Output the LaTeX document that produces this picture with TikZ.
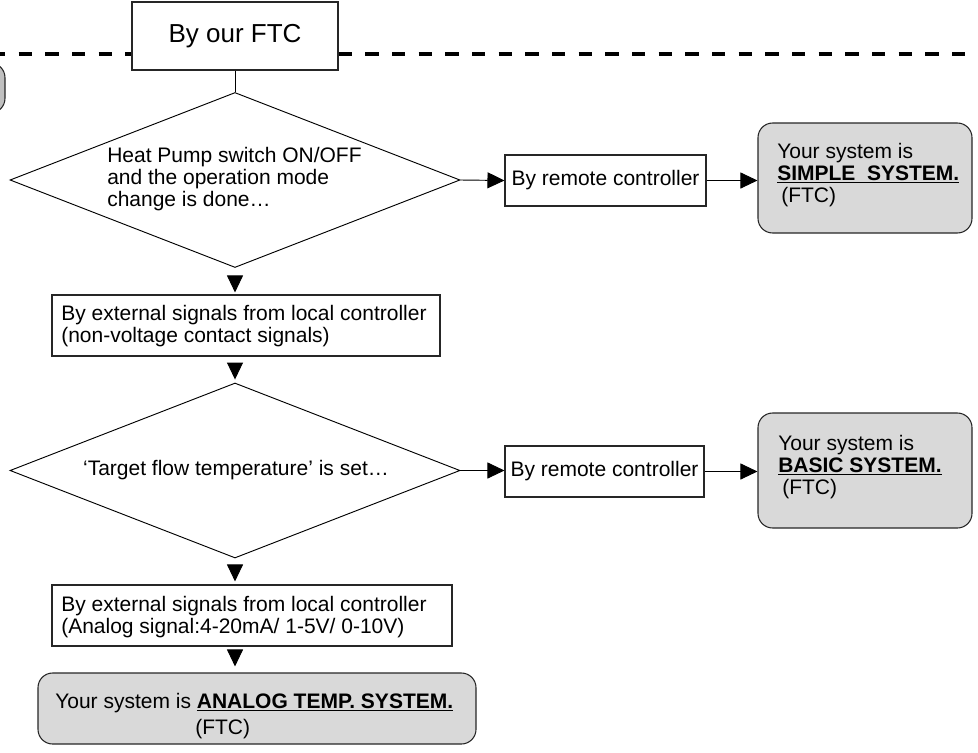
\documentclass[tikz,border=0pt]{standalone}
\usepackage{fontspec}
\setmainfont{Liberation Sans}
\usetikzlibrary{shapes.geometric,arrows.meta}
\def\pu{0.75pt}
\definecolor{resgray}{HTML}{D9D9D9}
\definecolor{edgegray}{HTML}{C0C0C0}
\tikzset{
  base/.style={font=\fontsize{15.75}{16.5}\selectfont},
  sqbox/.style={draw=black!85, line width=0.8pt, fill=white, inner sep=0pt},
  resbox/.style={draw=black!85, line width=0.8pt, fill=resgray, rounded corners=11pt, inner sep=0pt},
  dia/.style={diamond, draw=black, line width=0.7pt, fill=white, inner sep=0pt},
  txt/.style={base, inner sep=0pt, align=left},
  arr/.style={line width=0.7pt, -{Triangle[length=12.75pt,width=12pt]}},
  varr/.style={line width=0.7pt, -{Triangle[length=12.75pt,width=12pt]}},
  dashline/.style={line width=3.5pt, dash pattern=on 10pt off 10pt, dash phase=6pt},
}
\begin{document}
\begin{tikzpicture}[x=0.75pt,y=-0.75pt]
\useasboundingbox (0,0) rectangle (978,753);
% dashed separator
\coordinate (dl) at (0,54);
\coordinate (dr) at (978,54);
\draw[dashline] (dl) -- (dr);
% top box
\node[sqbox, minimum width=206*\pu, minimum height=68*\pu, font=\fontsize{19.5}{21}\selectfont] (ftc) at (235,36) {By our FTC};
% partial grey box at left edge
\node[resbox, fill=edgegray, minimum width=40*\pu, minimum height=50*\pu] (pg) at (-15,88) {};
% decision 1
\node[dia, minimum width=450*\pu, minimum height=175*\pu] (d1) at (235,180) {};
\node[txt, anchor=west] (d1t) at (107,179) {Heat Pump switch ON/OFF\\and the operation mode\\change is done\ldots};
\node[sqbox, base, minimum width=201*\pu, minimum height=51*\pu] (rc1) at (605.5,180.5) {By remote controller};
\node[resbox, minimum width=214*\pu, minimum height=110*\pu] (res1) at (865,178) {};
\node[txt, anchor=west] (res1t) at (777,175) {Your system is\\\underline{\textbf{SIMPLE\ \ SYSTEM.}}\\\hspace*{3pt}(FTC)};
% box 2
\node[sqbox, minimum width=388*\pu, minimum height=61*\pu] (b2) at (246,325.5) {};
\node[txt, anchor=west] (b2t) at (61,326) {By external signals from local controller\\(non-voltage contact signals)};
% decision 2
\node[dia, minimum width=450*\pu, minimum height=175*\pu] (d2) at (235,470.5) {};
\node[txt, anchor=center] (d2t) at (236,470) {‘Target flow temperature’ is set\ldots};
\node[sqbox, base, minimum width=199*\pu, minimum height=51*\pu] (rc2) at (604.5,471.5) {By remote controller};
\node[resbox, minimum width=214*\pu, minimum height=115*\pu] (res2) at (865,470.5) {};
\node[txt, anchor=west] (res2t) at (778,467) {Your system is\\\underline{\textbf{BASIC SYSTEM.}}\\\hspace*{3pt}(FTC)};
% box 3
\node[sqbox, minimum width=400*\pu, minimum height=61*\pu] (b3) at (252,615.5) {};
\node[txt, anchor=west] (b3t) at (61,617) {By external signals from local controller\\(Analog signal:4-20mA/ 1-5V/ 0-10V)};
% final result
\node[resbox, minimum width=438*\pu, minimum height=71*\pu] (res3) at (257,708.5) {};
\node[txt, anchor=west] (res3t) at (55,716) {Your system is \underline{\textbf{ANALOG TEMP. SYSTEM.}}\\[3pt]\hspace*{105pt}(FTC)};
% connectors
\draw[line width=0.7pt] (ftc.south) -- (d1.north);
\draw[arr] (d1.east) -- (rc1.west);
\draw[arr] (rc1.east) -- (res1.west |- rc1.east);
\draw[varr, shorten <=6.75pt, shorten >=1.5pt] (d1.south) -- (d1.south |- b2.north);
\draw[varr, shorten <=5.25pt, shorten >=2.25pt] (d2.north |- b2.south) -- (d2.north);
\draw[arr] (d2.east) -- (rc2.west |- d2.east);
\draw[arr] (rc2.east) -- (res2.west |- rc2.east);
\draw[varr, shorten <=5.25pt, shorten >=2.25pt] (d2.south) -- (d2.south |- b3.north);
\draw[varr, shorten <=3pt, shorten >=4.5pt] (d2.south |- b3.south) -- (d2.south |- res3.north);
\end{tikzpicture}
\end{document}
